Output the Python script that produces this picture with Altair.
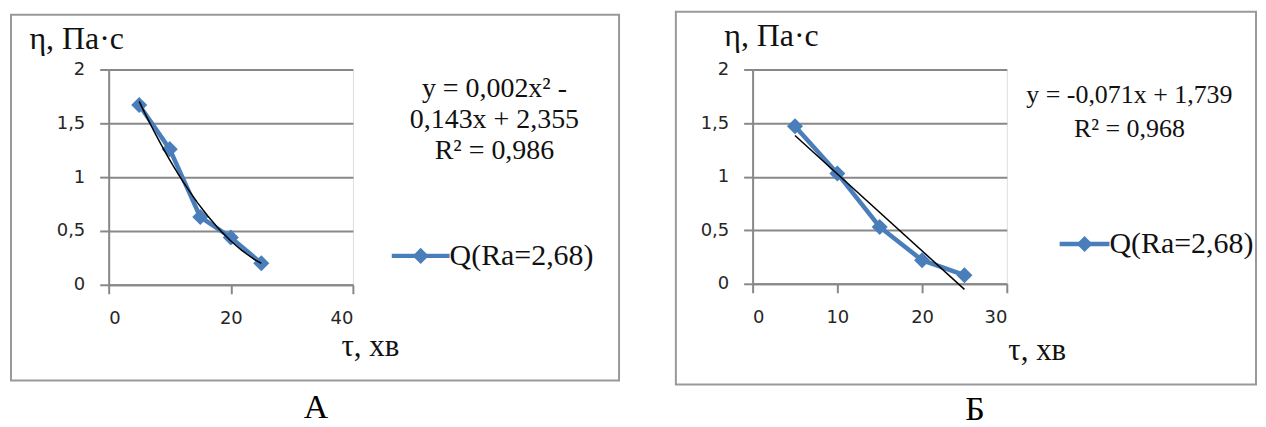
import altair as alt
import pandas as pd

# ---- data ----
tau_a = [5, 10, 15, 20, 25]
eta_a = [1.67, 1.26, 0.63, 0.44, 0.20]
tau_b = [5, 10, 15, 20, 25]
eta_b = [1.47, 1.03, 0.53, 0.22, 0.08]
series_label = "Q(Ra=2,68)"
y_ticks = [0, 0.5, 1, 1.5, 2]
x_ticks_a = [0, 20, 40]
x_ticks_b = [0, 10, 20, 30]
eq_a = ["y = 0,002x² -", "0,143x  + 2,355", "R² = 0,986"]
eq_b = ["y = -0,071x  + 1,739", "R² = 0,968"]
panel_a = "А"
panel_b = "Б"
y_title = "η, Па·с"
x_title = "τ, хв"

BLUE = "#4a7ebb"
GRAY = "#888888"
SERIF = "Liberation Serif"
SANS = "DejaVu Sans"
one = pd.DataFrame({"k": [0]})


def panel(tau, eta, xmax, xticks, w, h, lay, fit_method, eq_lines, eq_size):
    df = pd.DataFrame({"tau": tau, "eta": eta})
    x = alt.X("tau:Q",
              scale=alt.Scale(domain=[0, xmax], nice=False, zero=False),
              axis=alt.Axis(values=xticks, grid=False, domainColor=GRAY, domainWidth=2,
                            tickColor=GRAY, tickWidth=2, tickSize=9, labelPadding=16,
                            labelFont=SANS, labelFontSize=18, labelColor="#262626",
                            title=x_title, titleFont=SERIF, titleFontSize=31,
                            titleFontWeight="normal", titleColor="#111111",
                            titleX=lay["xt"][0], titleY=lay["xt"][1],
                            titleAlign="center", titleBaseline="middle"))
    y = alt.Y("eta:Q",
              scale=alt.Scale(domain=[0, 2], nice=False),
              axis=alt.Axis(values=y_ticks,
                            labelExpr="replace(format(datum.value, '~g'), '.', ',')",
                            grid=True, gridColor=GRAY, gridWidth=2,
                            domainColor=GRAY, domainWidth=2,
                            tickColor=GRAY, tickWidth=2, tickSize=9, labelPadding=15,
                            labelFont=SANS, labelFontSize=18, labelColor="#262626",
                            title=y_title, titleFont=SERIF, titleFontSize=32,
                            titleFontWeight="normal", titleColor="#111111", titleAngle=0,
                            titleX=lay["yt"][0], titleY=lay["yt"][1],
                            titleAlign="left", titleBaseline="alphabetic"))
    fx0, fy0, fx1, fy1 = lay["frame"]
    layers = []
    layers.append(alt.Chart(one).mark_rect(fillOpacity=0, stroke="#999999", strokeWidth=2)
                  .encode(x=alt.value(fx0), x2=alt.value(fx1), y=alt.value(fy0), y2=alt.value(fy1)))
    ex, ey = lay["expand"]
    layers.append(alt.Chart(one).mark_rect(fillOpacity=0, strokeOpacity=0)
                  .encode(x=alt.value(ex), x2=alt.value(ex + 1), y=alt.value(ey), y2=alt.value(ey + 1)))
    base = alt.Chart(df).encode(x=x, y=y)
    layers.append(base.mark_line(color=BLUE, strokeWidth=4.5))
    layers.append(base.mark_point(shape="diamond", filled=True, size=260, color=BLUE, opacity=1))
    if fit_method == "poly":
        trend = alt.Chart(df).transform_regression("tau", "eta", method="poly", order=2)
    else:
        trend = alt.Chart(df).transform_regression("tau", "eta", method="linear")
    layers.append(trend.mark_line(color="black", strokeWidth=1.5).encode(x="tau:Q", y="eta:Q"))
    # trend equation
    ecx = lay["eq"][0]
    for i, line in enumerate(eq_lines):
        layers.append(alt.Chart(one).mark_text(font=SERIF, fontSize=eq_size, align="center",
                                               baseline="middle", color="#111111")
                      .encode(x=alt.value(ecx), y=alt.value(lay["eq"][1] + i * lay["eq"][2]),
                              text=alt.value(line)))
    # legend
    lx0, lx1, ly = lay["leg"]
    layers.append(alt.Chart(one).mark_rule(color=BLUE, strokeWidth=4.5)
                  .encode(x=alt.value(lx0), x2=alt.value(lx1), y=alt.value(ly)))
    layers.append(alt.Chart(one).mark_point(shape="diamond", filled=True, size=260, color=BLUE, opacity=1)
                  .encode(x=alt.value((lx0 + lx1) / 2), y=alt.value(ly)))
    layers.append(alt.Chart(one).mark_text(font=SERIF, fontSize=30, align="left",
                                           baseline="middle", color="#111111")
                  .encode(x=alt.value(lx1), y=alt.value(ly), text=alt.value(series_label)))
    # panel letter
    layers.append(alt.Chart(one).mark_text(font=SERIF, fontSize=34, align="center",
                                           baseline="alphabetic", color="#000000")
                  .encode(x=alt.value(lay["letter"][0]), y=alt.value(lay["letter"][1]),
                          text=alt.value(lay["letter"][2])))
    return alt.layer(*layers).properties(width=w, height=h)


lay_a = {"frame": (-98, -55, 512, 312), "expand": (-100, -60),
         "yt": (-80, -21), "xt": (262, 62), "eq": (387, 20, 31),
         "leg": (284, 342, 187), "letter": (208, 350, panel_a)}
lay_b = {"frame": (-77, -58, 505, 316), "expand": (-77, -58),
         "yt": (-29, -24), "xt": (285, 67), "eq": (378, 26, 34),
         "leg": (308, 358, 175), "letter": (223, 352, panel_b)}

chart_a = panel(tau_a, eta_a, 40, x_ticks_a, 245, 216, lay_a, "poly", eq_a, 28)
chart_b = panel(tau_b, eta_b, 30, x_ticks_b, 255, 215, lay_b, "linear", eq_b, 26)

chart = (alt.hconcat(chart_a, chart_b, spacing=53)
         .properties(padding={"left": 0, "top": 0, "right": 0, "bottom": 0})
         .configure_view(strokeWidth=0)
         .configure(background="white"))

chart.save("out.html", embed_options={"renderer": "svg", "actions": False})
